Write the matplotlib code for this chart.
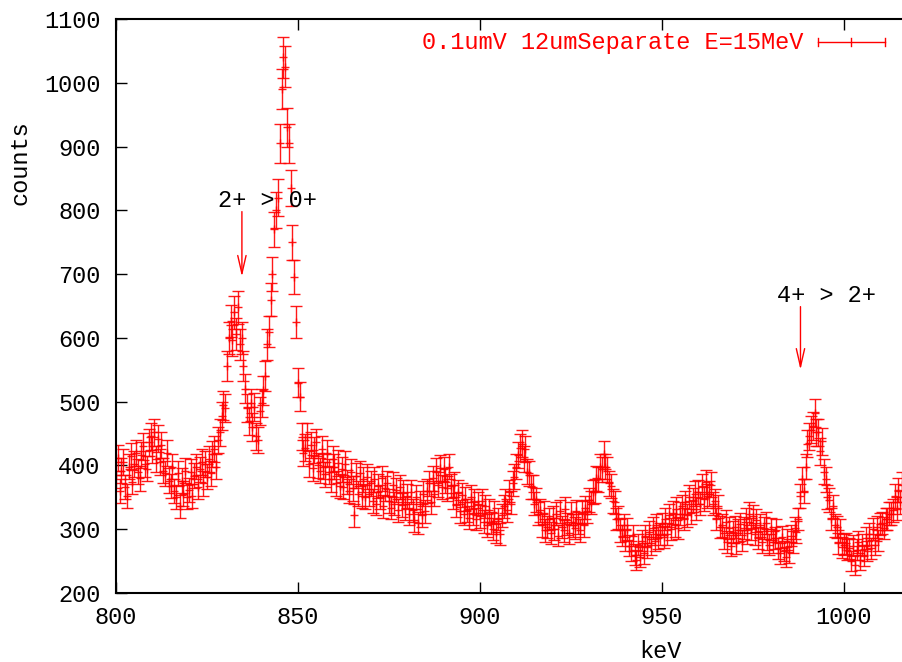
import numpy as np
import matplotlib
matplotlib.use("Agg")
import matplotlib.pyplot as plt
from matplotlib.lines import Line2D

plt.rcParams['font.family'] = ['Liberation Mono', 'DejaVu Sans Mono', 'DejaVu Sans']

# ---- data: spectrum channels, 0.5 keV per channel starting at 800 keV ----
kev_start = 800.0
kev_step = 0.5
counts = [
    # 800 - 809.5
    385, 412, 360, 392, 405, 366, 352, 398, 415, 374, 402, 420, 390, 380, 416, 430, 402, 395, 436, 446,
    # 810 - 819.5
    424, 452, 410, 442, 405, 432, 392, 388, 420, 376, 368, 398, 360, 350, 388, 336, 376, 356, 392, 350,
    # 820 - 829.5
    362, 390, 352, 384, 398, 366, 394, 405, 372, 402, 382, 410, 388, 418, 426, 398, 440, 452, 478, 494,
    # 830 - 839.5
    490, 556, 600, 626, 596, 640, 606, 648, 590, 600, 556, 520, 490, 470, 498, 460, 492, 446, 440, 486,
    # 840 - 849.5
    498, 518, 540, 590, 610, 660, 700, 770, 800, 820, 905, 990, 1040, 1025, 930, 905, 835, 750, 695, 625,
    # 850 - 859.5
    530, 508, 445, 420, 428, 445, 402, 432, 396, 424, 436, 400, 392, 426, 398, 386, 420, 390, 378, 410,
    # 860 - 869.5
    398, 372, 404, 368, 394, 366, 402, 374, 360, 390, 364, 322, 384, 356, 388, 352, 378, 350, 382, 356,
    # 870 - 879.5
    372, 344, 378, 340, 368, 350, 380, 336, 364, 372, 344, 334, 370, 340, 362, 330, 366, 338, 358, 332,
    # 880 - 889.5
    352, 324, 358, 330, 314, 350, 310, 342, 322, 356, 328, 360, 372, 342, 380, 356, 392, 370, 396, 366,
    # 890 - 899.5
    394, 376, 364, 398, 368, 350, 370, 338, 358, 328, 354, 324, 348, 330, 318, 350, 324, 344, 316, 340,
    # 900 - 909.5
    320, 344, 312, 336, 306, 330, 310, 300, 326, 296, 316, 292, 322, 336, 344, 330, 358, 342, 372, 382,
    # 910 - 919.5
    398, 416, 428, 434, 410, 426, 390, 388, 366, 366, 340, 346, 324, 330, 306, 326, 298, 304, 316, 294,
    # 920 - 929.5
    318, 300, 324, 290, 328, 304, 298, 332, 308, 294, 324, 306, 302, 328, 310, 298, 326, 306, 334, 328,
    # 930 - 939.5
    346, 342, 358, 360, 380, 378, 398, 394, 418, 398, 394, 372, 368, 344, 342, 316, 318, 298, 290, 306,
    # 940 - 949.5
    282, 300, 274, 266, 290, 260, 252, 276, 256, 282, 262, 290, 272, 296, 276, 302, 282, 306, 286, 292,
    # 950 - 959.5
    308, 288, 316, 292, 322, 300, 326, 306, 332, 302, 324, 336, 316, 342, 322, 350, 326, 346, 356, 332,
    # 960 - 969.5
    358, 340, 368, 348, 374, 352, 356, 370, 340, 344, 316, 336, 304, 306, 286, 312, 280, 302, 274, 296,
    # 970 - 979.5
    304, 278, 298, 308, 282, 302, 316, 294, 324, 300, 320, 292, 314, 286, 306, 280, 302, 310, 284, 276,
    # 980 - 989.5
    300, 280, 286, 298, 270, 262, 288, 266, 256, 284, 264, 290, 280, 302, 296, 316, 352, 378, 360, 398,
    # 990 - 999.5
    434, 446, 456, 462, 482, 452, 452, 422, 438, 390, 378, 350, 346, 316, 336, 306, 304, 278, 298, 272,
    # 1000 - 1009.5
    276, 278, 268, 270, 250, 274, 244, 268, 280, 252, 276, 258, 286, 266, 292, 270, 300, 276, 304, 282,
    # 1010 - 1016
    308, 310, 302, 316, 316, 324, 324, 330, 352, 332, 362, 342, 370,
]
counts = np.array(counts, dtype=float)
energy = kev_start + kev_step * np.arange(len(counts))
errors = np.sqrt(counts)

series_label = "0.1umV 12umSeparate E=15MeV"
x_ticks = [800, 850, 900, 950, 1000]
y_ticks = [200, 300, 400, 500, 600, 700, 800, 900, 1000, 1100]
transitions = ["2+ > 0+", "4+ > 2+"]
arrow_x = [834.6, 988.1]
arrow_from = [798, 649]
arrow_to = [696, 550]
label_xy = [(841.6, 816), (995.2, 667)]

RED = '#ff0000'
FS = 17

fig = plt.figure(figsize=(9.02, 6.62), dpi=100)
ax = fig.add_axes([116/902, 1 - 593/662, 786/902, (593 - 19)/662])

ax.errorbar(energy, counts, yerr=errors, fmt='none', ecolor=RED,
            elinewidth=1.0, capsize=4, capthick=1.0, alpha=0.9)
ax.plot(energy, counts, linestyle='none', marker='+', color=RED,
        markersize=6, markeredgewidth=1.0, alpha=0.9)

ax.set_xlim(800, 1016)
ax.set_ylim(200, 1100)
ax.set_xticks(x_ticks)
ax.set_yticks(y_ticks)
ax.tick_params(axis='both', direction='in', length=8, width=1.0,
               labelsize=FS, top=True, right=False)
ax.tick_params(axis='y', pad=11)
ax.tick_params(axis='x', pad=9)
for s in ['left', 'bottom', 'top']:
    ax.spines[s].set_linewidth(1.5)
ax.spines['right'].set_visible(False)

fig.text(660/902, 1 - 652/662, "keV", ha='center', va='center', fontsize=FS)
fig.text(20/902, 1 - 163/662, "counts", ha='center', va='center',
         fontsize=FS, rotation=90)

# transition annotations
for txt, xa, y0, y1, (lx, ly) in zip(transitions, arrow_x, arrow_from, arrow_to, label_xy):
    ax.text(lx, ly, txt, ha='center', va='center', fontsize=FS, color='black')
    ax.annotate('', xy=(xa, y1), xytext=(xa, y0),
                arrowprops=dict(arrowstyle='->,head_length=1.3,head_width=0.3',
                                color=RED, lw=1.0, shrinkA=0, shrinkB=0))

# legend (gnuplot-style key)
fig.text(803/902, 1 - 42/662, series_label, ha='right', va='center',
         fontsize=FS, color=RED)
ly = 1 - 42/662
cap = 4/662
x0, x1, xm = 818/902, 885/902, 851/902
fig.add_artist(Line2D([x0, x1], [ly, ly], color=RED, lw=1.0))
for xx in (x0, xm, x1):
    fig.add_artist(Line2D([xx, xx], [ly - cap, ly + cap], color=RED, lw=1.0))

fig.savefig('out.png', dpi=100)
